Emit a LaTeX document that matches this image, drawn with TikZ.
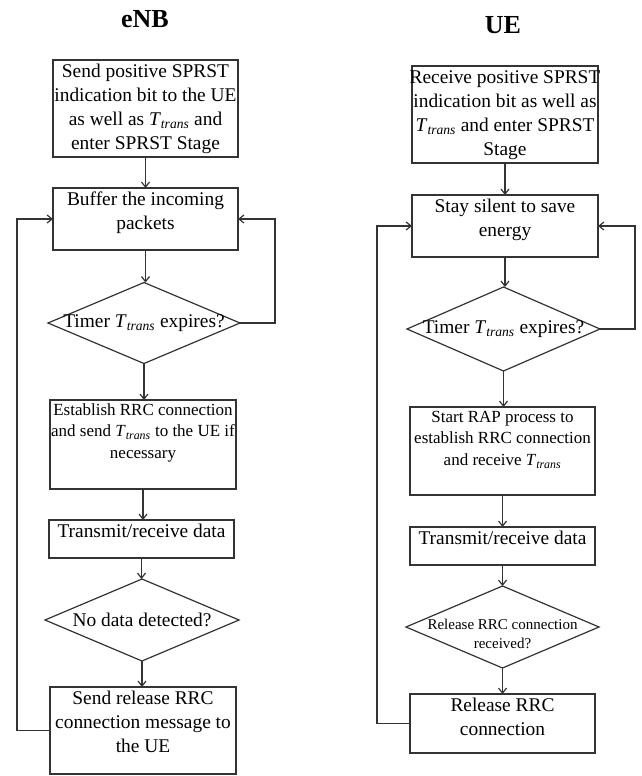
\documentclass[tikz,border=0pt]{standalone}
\usepackage{fontspec}
\setmainfont{Liberation Serif}
\usetikzlibrary{arrows.meta,shapes.geometric}
\definecolor{linecol}{HTML}{333333}
% italic timer symbol T_trans
\newcommand\Ttr{\textit{T}\textsubscript{\textit{trans}}}
% fixed-size box body with top-aligned, centred lines
\newcommand\boxlines[3]{\parbox[c][#2][t]{#1}{\centering\strut #3}}
% one centred line that may overflow the box
\newcommand\fullline[1]{\makebox[\linewidth]{#1}}
\begin{document}
\begin{tikzpicture}[x=1pt,y=-1pt,
  every node/.style={inner sep=0pt, outer sep=0pt},
  stepbox/.style={draw=linecol, line width=1.2pt, rectangle,
    font=\fontsize{19.4pt}{24.3pt}\selectfont},
  smallbox/.style={stepbox, font=\fontsize{17pt}{21.7pt}\selectfont},
  decision/.style={draw=linecol, line width=1.2pt, diamond},
  diatext/.style={font=\fontsize{19.4pt}{24pt}\selectfont, align=center},
  diasmall/.style={font=\fontsize{15pt}{19pt}\selectfont, align=center},
  heading/.style={font=\fontsize{26pt}{30pt}\selectfont\bfseries},
  flow/.style={draw=linecol, line width=1.2pt, -{Straight Barb[length=5pt,width=8pt]}},
  loop/.style={flow, rounded corners=0pt}]

\fill[white] (0,0) rectangle (641,776);
\useasboundingbox (0,0) rectangle (641,776);

% ---------------- eNB column ----------------
\node[heading] (tenb) at (145,19) {eNB};

\node[stepbox] (e1) at (145.5,108.5) {\boxlines{185pt}{97pt}{Send positive SPRST\\\fullline{indication bit to the UE}\\as well as \Ttr{} and\\enter SPRST Stage}};
\node[stepbox] (e2) at (145.5,219) {\boxlines{185pt}{62pt}{Buffer the incoming\\packets}};
\node[decision, minimum width=192pt, minimum height=81pt,
  label={[diatext,name=e3t]center:{Timer \Ttr{} expires?}}] (e3) at (144,323) {};
\node[smallbox] (e4) at (143,444.5) {\boxlines{186pt}{89pt}{Establish RRC connection\\\fullline{and send \Ttr{} to the UE if}\\necessary}};
\node[stepbox] (e5) at (141.5,539) {\boxlines{185pt}{38pt}{Transmit/receive data}};
\node[decision, minimum width=194pt, minimum height=82pt,
  label={[diatext,name=e6t]center:{No data detected?}}] (e6) at (142,620) {};
\node[stepbox] (e7) at (143,730.5) {\boxlines{186pt}{87pt}{Send release RRC\\\fullline{connection message to}\\the UE}};

\coordinate (eR) at (275,0);
\coordinate (eL) at (17,0);

\draw[flow] (e1.south) -- (e1.south |- e2.north);
\draw[flow] (e2.south) -- (e2.south |- e3.north);
\draw[flow] (e3.south) -- (e3.south |- e4.north);
\draw[flow] (e4.south) -- (e4.south |- e5.north);
\draw[flow] (e5.south) -- (e5.south |- e6.north);
\draw[flow] (e6.south) -- (e6.south |- e7.north);
\draw[loop] (e3.east) -- (e3.east -| eR) |- (e2.east);
\draw[loop] (e7.west) -- (e7.west -| eL) |- (e2.west);

% ---------------- UE column ----------------
\node[heading] (tue) at (503,25) {UE};

\node[stepbox] (u1) at (505,114.5) {\boxlines{186pt}{97pt}{\fullline{Receive positive SPRST}\\\fullline{indication bit as well as}\\\Ttr{} and enter SPRST\\Stage}};
\node[stepbox] (u2) at (505,226) {\boxlines{186pt}{62pt}{Stay silent to save\\energy}};
\node[decision, minimum width=193pt, minimum height=84pt,
  label={[diatext,name=u3t]center:{Timer \Ttr{} expires?}}] (u3) at (503.5,329) {};
\node[smallbox] (u4) at (502.5,451) {\boxlines{185pt}{88pt}{Start RAP process to\\\fullline{establish RRC connection}\\and receive \Ttr}};
\node[stepbox] (u5) at (502.5,546) {\boxlines{185pt}{38pt}{Transmit/receive data}};
\node[decision, minimum width=193pt, minimum height=82pt,
  label={[diasmall,name=u6t,yshift=-7pt]center:{Release RRC connection\\received?}}] (u6) at (502.5,627) {};
\node[stepbox] (u7) at (502.5,723.5) {\boxlines{185pt}{59pt}{Release RRC\\connection}};

\coordinate (uR) at (635,0);
\coordinate (uL) at (377,0);

\draw[flow] (u1.south) -- (u1.south |- u2.north);
\draw[flow] (u2.south) -- (u2.south |- u3.north);
\draw[flow] (u3.south) -- (u3.south |- u4.north);
\draw[flow] (u4.south) -- (u4.south |- u5.north);
\draw[flow] (u5.south) -- (u5.south |- u6.north);
\draw[flow] (u6.south) -- (u6.south |- u7.north);
\draw[loop] (u3.east) -- (u3.east -| uR) |- (u2.east);
\draw[loop] (u7.west) -- (u7.west -| uL) |- (u2.west);
\end{tikzpicture}
\end{document}
